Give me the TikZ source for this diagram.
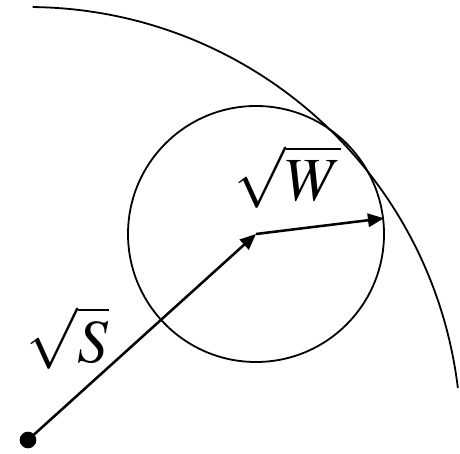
\documentclass[tikz,border=0pt]{standalone}
\usepackage{mathptmx}
\usetikzlibrary{arrows.meta}

\begin{document}
\begin{tikzpicture}[x=0.75pt,y=0.75pt,font=\fontsize{46}{50}\selectfont,>={Triangle[length=12pt,width=10pt]}]
\useasboundingbox (0,0) rectangle (460,453);
\node[circle,fill,inner sep=0,minimum size=12.5pt] (D) at (28,13) {};
\coordinate (C) at (256,219);
\node[circle,draw,line width=1.35pt,inner sep=0,minimum size=192pt] (Wc) at (C) {};
\draw[line width=1.35pt] ([shift={(89.4:433)}]D.center) arc[start angle=89.4,end angle=6.9,radius=433];
\draw[->,line width=1.9pt] (D.center)--(C);
\draw[->,line width=1.9pt] (C)--(Wc.7.2);
\node (sqW) at (288,276) {$\sqrt{W}$};
\node (sqS) at (68,115) {$\sqrt{S}$};
\end{tikzpicture}
\end{document}
